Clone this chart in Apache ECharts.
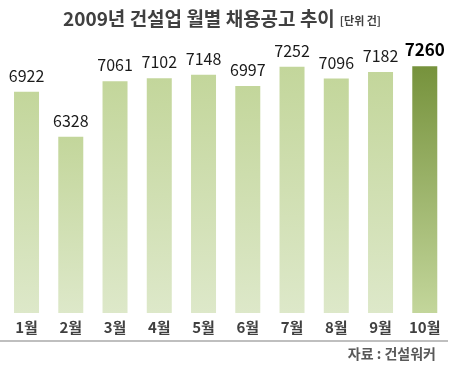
<!DOCTYPE html>
<html><head><meta charset="utf-8">
<script src="https://cdn.jsdelivr.net/npm/echarts@6/dist/echarts.min.js"></script>
<style>html,body{margin:0;padding:0;background:#fff}#c{width:450px;height:370px}</style>
</head><body><div id="c"></div>
<script>
var categories = ['1월','2월','3월','4월','5월','6월','7월','8월','9월','10월'];
var values = [6922, 6328, 7061, 7102, 7148, 6997, 7252, 7096, 7182, 7260];
var highlightIndex = 9;

var FONT = '"Noto Sans CJK KR", "Noto Sans", sans-serif';
var normalColor = new echarts.graphic.LinearGradient(0,0,0,1,[{offset:0,color:'#c3d69b'},{offset:1,color:'#dde8c9'}]);
var hiColor = new echarts.graphic.LinearGradient(0,0,0,1,[{offset:0,color:'#76923c'},{offset:1,color:'#c3d69b'}]);

var data = values.map(function(v,i){
  var hi = i === highlightIndex;
  return {
    value: v,
    itemStyle: {color: hi ? hiColor : normalColor},
    label: hi ? {fontWeight:'bold', fontSize:17, color:'#000'} : undefined
  };
});

var chart = echarts.init(document.getElementById('c'));
chart.setOption({
  animation: false,
  title: {
    text: '{a|2009년 건설업 월별 채용공고 추이} {b|[단위 건]}',
    left: 58, top: 4,
    textStyle: {
      rich: {
        a: {fontFamily: FONT, fontSize: 19, fontWeight: 'bold', color: '#404040'},
        b: {fontFamily: FONT, fontSize: 11, color: '#404040', padding:[4,0,0,0]}
      }
    }
  },
  grid: {left: 4.4, right: 3.1, top: 48, bottom: 57, containLabel: false},
  xAxis: {
    type: 'category', data: categories,
    axisLine: {show: false}, axisTick: {show: false},
    axisLabel: {fontFamily: FONT, fontSize: 15, fontWeight: 'bold', color: '#404040', margin: 7}
  },
  yAxis: {
    type: 'value', min: 4000, max: 7500,
    show: false, splitLine: {show: false}
  },
  series: [{
    type: 'bar', data: data, barWidth: 25,
    label: {show: true, position: 'top', distance: 8, fontFamily: FONT, fontSize: 16, color: '#1a1a1a'}
  }],
  graphic: [
    {type: 'line', shape: {x1: 0, y1: 341, x2: 448, y2: 341}, style: {stroke: '#bfbfbf', lineWidth: 2}},
    {type: 'text', right: 14, top: 347, style: {text: '자료 : 건설워커', font: 'bold 14px ' + FONT, fill: '#595959'}}
  ]
});
</script>
</body></html>
